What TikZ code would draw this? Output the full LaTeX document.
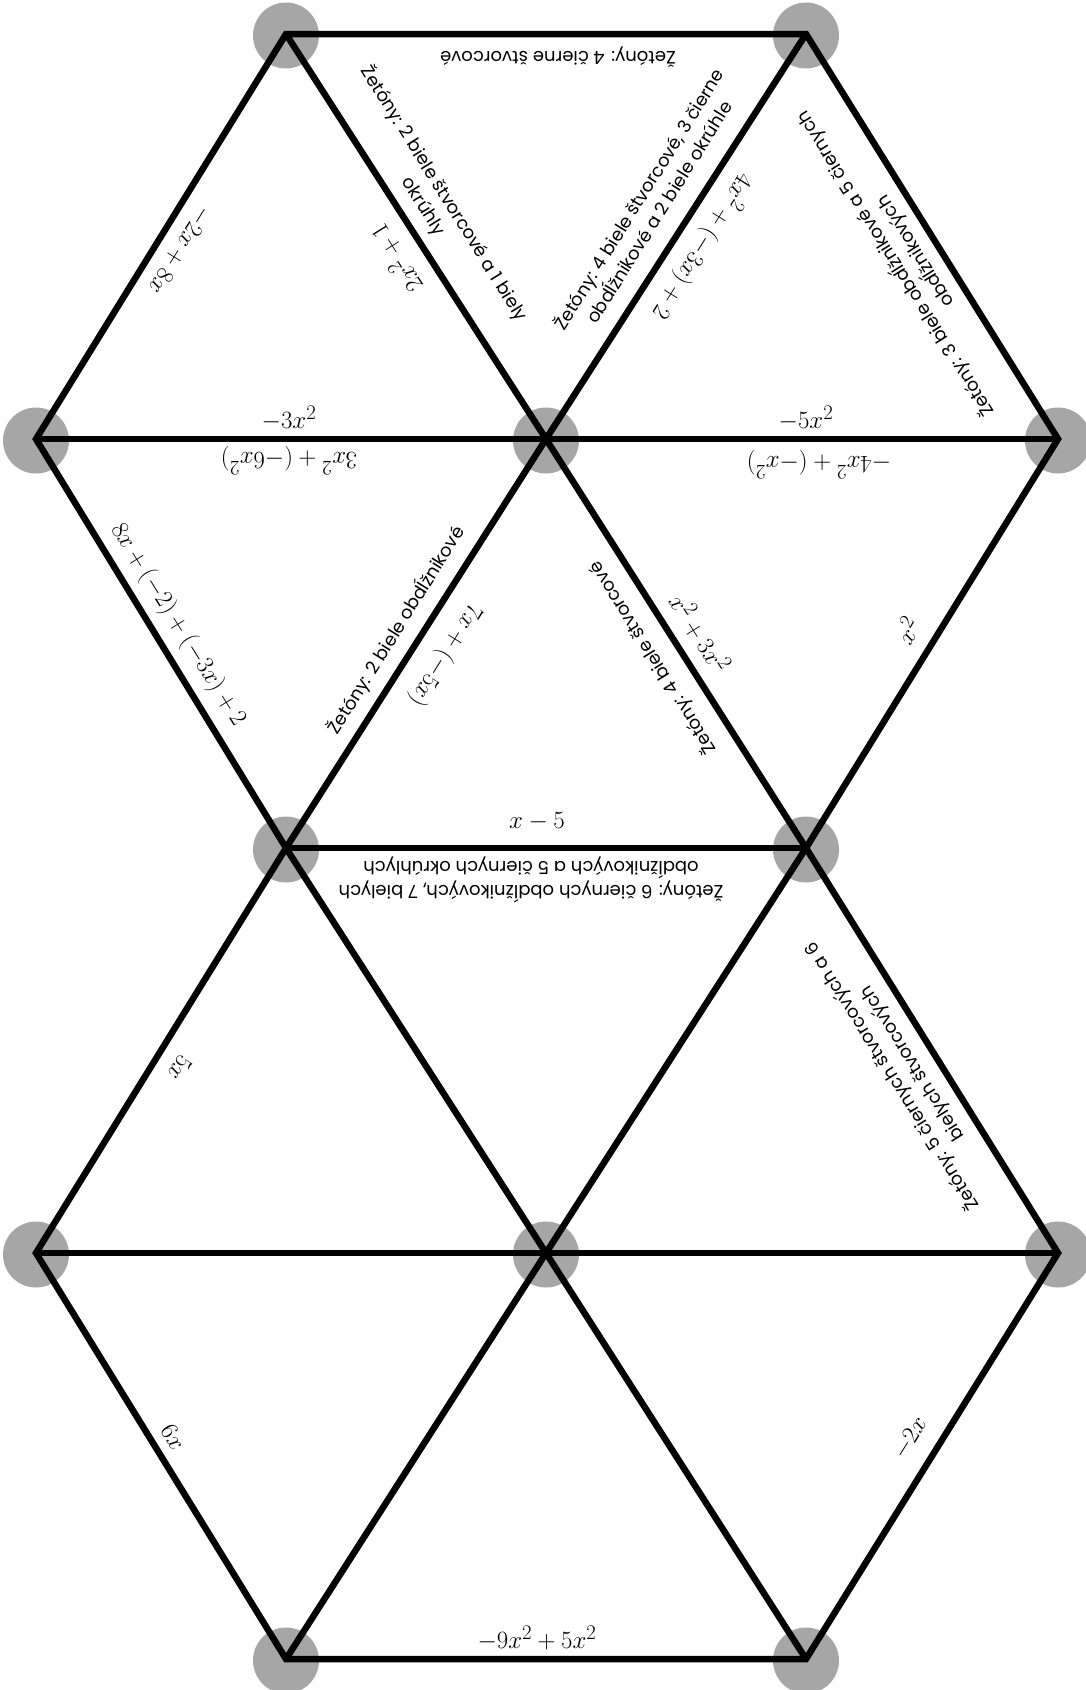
\documentclass[tikz,border=0pt]{standalone}
\usepackage[no-math]{fontspec}
\setmainfont{Poppins}
\usepackage{amsmath}
\usepackage{xcolor}
\definecolor{dotgray}{HTML}{A6A6A6}

\begin{document}
\begin{tikzpicture}[
      x=1pt, y=-1pt,
      edge/.style={line width=6.5pt, line join=miter},
      dot/.style={fill=dotgray},
      expr/.style={font=\fontsize{24.88}{28}\selectfont, inner sep=0pt},
      zet/.style={font=\fontsize{18}{24}\selectfont, align=center, inner sep=0pt},
    ]
    \useasboundingbox (0,0) rectangle (1086,1690);

    % Vertices
    \coordinate (a1) at (286,34);
    \coordinate (a2) at (806,34);
    \coordinate (b1) at (36,439);
    \coordinate (b2) at (546,439);
    \coordinate (b3) at (1058,439);
    \coordinate (c1) at (286,848);
    \coordinate (c2) at (806,848);
    \coordinate (d1) at (36,1253);
    \coordinate (d2) at (546,1253);
    \coordinate (d3) at (1058,1253);
    \coordinate (e1) at (286,1659);
    \coordinate (e2) at (806,1659);

    \foreach \v in {a1,a2,b1,b2,b3,c1,c2,d1,d2,d3,e1,e2}
      \fill[dot] ([yshift=-1.5pt]\v) circle (33pt);

    % Edges
    \draw[edge] (a1) -- (a2) -- (b3) -- (c2) -- (d3) -- (e2) -- (e1) -- (d1) -- (c1) -- (b1) -- cycle;
    \draw[edge] (b1) -- (b3);
    \draw[edge] (c1) -- (c2);
    \draw[edge] (d1) -- (d3);
    \draw[edge] (a1) -- (b2) -- (a2);
    \draw[edge] (c1) -- (b2) -- (c2);
    \draw[edge] (c1) -- (d2) -- (c2);
    \draw[edge] (e1) -- (d2) -- (e2);

    % Top row
    \node[zet, rotate=180] (z1) at (558,57) {Žetóny: 4 čierne štvorcové};
    \node[expr, rotate=-122] (t1) at (180,250) {$-2x+8x$};
    \node[expr, rotate=122] (t2) at (395,259) {$2x^2+1$};
    \node[zet, rotate=-58] (z2) at (434,200) {Žetóny: 2 biele štvorcové a 1 biely\\okrúhly};
    \node[zet, rotate=58] (z3) at (648,205) {Žetóny: 4 biele štvorcové, 3 čierne\\obdĺžnikové a 2 biele okrúhle};
    \node[expr, rotate=-122] (t3) at (703,247) {$4x^2+(-3x)+2$};
    \node[zet, rotate=122] (z4) at (905,258) {Žetóny: 3 biele obdĺžnikové a 5 čiernych\\obdĺžnikových};

    % Second row
    \node[expr] (t4) at (289,418) {$-3x^2$};
    \node[expr, rotate=180] (t5) at (289,461) {$3x^2+(-6x^2)$};
    \node[expr] (t6) at (806,418) {$-5x^2$};
    \node[expr, rotate=180] (t7) at (819,465) {$-4x^2+(-x^2)$};
    \node[expr, rotate=-58] (t8) at (178,625) {$8x+(-2)+(-3x)+2$};
    \node[zet, rotate=58] (z5) at (396,630) {Žetóny: 2 biele obdĺžnikové};
    \node[expr, rotate=-122] (t9) at (445,655) {$7x+(-5x)$};
    \node[zet, rotate=122] (z6) at (653,658) {Žetóny: 4 biele štvorcové};
    \node[expr, rotate=-58] (t10) at (700,633) {$x^2+3x^2$};
    \node[expr, rotate=58] (t11) at (907,630) {$x^2$};
    \node[expr] (t12) at (537,822) {$x-5$};

    % Third row
    \node[zet, rotate=180] (z7) at (531,880) {Žetóny: 6 čiernych obdĺžnikových, 7 bielych\\obdĺžnikových a 5 čiernych okrúhlych};
    \node[expr, rotate=-122] (t13) at (180,1068) {$5x$};
    \node[zet, rotate=122] (z8) at (902,1070) {Žetóny: 5 čiernych štvorcových a 6\\bielych štvorcových};

    % Bottom row
    \node[expr, rotate=-58] (t14) at (173,1437) {$6x$};
    \node[expr, rotate=58] (t15) at (910,1438) {$-2x$};
    \node[expr] (t16) at (537,1638) {$-9x^2+5x^2$};
  \end{tikzpicture}
\end{document}
